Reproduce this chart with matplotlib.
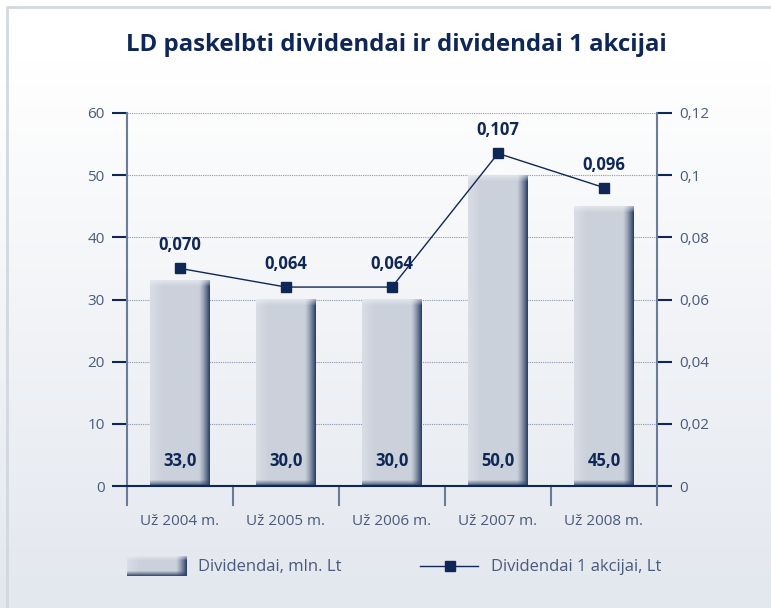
import numpy as np
import matplotlib
matplotlib.use("Agg")
import matplotlib.pyplot as plt
from matplotlib import font_manager as fm
from matplotlib.colors import to_rgb

categories = ["Už 2004 m.", "Už 2005 m.", "Už 2006 m.", "Už 2007 m.", "Už 2008 m."]
dividends = [33.0, 30.0, 30.0, 50.0, 45.0]
per_share = [0.070, 0.064, 0.064, 0.107, 0.096]
bar_labels = ["33,0", "30,0", "30,0", "50,0", "45,0"]
line_labels = ["0,070", "0,064", "0,064", "0,107", "0,096"]
left_ticks = [0, 10, 20, 30, 40, 50, 60]
right_ticks = [0, 0.02, 0.04, 0.06, 0.08, 0.10, 0.12]
right_tick_labels = ["0", "0,02", "0,04", "0,06", "0,08", "0,1", "0,12"]
title = "LD paskelbti dividendai ir dividendai 1 akcijai"
legend_labels = ["Dividendai, mln. Lt", "Dividendai 1 akcijai, Lt"]

names = {f.name for f in fm.fontManager.ttflist}
base_font = "Open Sans" if "Open Sans" in names else "DejaVu Sans"
plt.rcParams["font.family"] = [base_font, "DejaVu Sans"]

NAVY = "#0f2756"
TXT = "#4a5a7c"
SPINE = "#6b7b98"

W, H = 771, 608
fig = plt.figure(figsize=(W / 100, H / 100), dpi=100)

# background gradient + border
bg = fig.add_axes([0, 0, 1, 1], zorder=-10)
bg.set_axis_off()
top_c = np.array(to_rgb("#ffffff"))
bot_c = np.array(to_rgb("#e3e7ee"))
t = np.linspace(0, 1, 200)[:, None, None]
t = np.clip((t - 0.1) / 0.9, 0, 1)
grad = top_c * (1 - t) + bot_c * t
grad = np.repeat(grad, 2, axis=1)
bg.imshow(grad, extent=[0, 1, 0, 1], aspect="auto", origin="upper")
bg.plot([7 / W, 7 / W, 1.0], [0, 1 - 7 / H, 1 - 7 / H], color="#d3d8e0", lw=2,
        transform=bg.transAxes, clip_on=False)
bg.set_xlim(0, 1)
bg.set_ylim(0, 1)


def bar_image(nrows, ncols, bottom_px=6, top_px=6):
    body = np.array(to_rgb("#cbd1db"))
    light = np.array(to_rgb("#d9dde5"))
    dark = np.array(to_rgb("#2f4268"))
    hi = np.array(to_rgb("#eef0f4"))
    x = np.linspace(0, 1, ncols)
    img = np.zeros((nrows, ncols, 3))
    for j, xv in enumerate(x):
        if xv < 0.2:
            c = light * (1 - xv / 0.2) + body * (xv / 0.2)
        elif xv < 0.82:
            c = body
        else:
            f = ((xv - 0.82) / 0.18) ** 1.3
            c = body * (1 - f) + dark * f
        img[:, j] = c
    for i in range(min(top_px, nrows)):
        f = 1 - i / top_px
        img[i] = img[i] * (1 - 0.6 * f) + hi * 0.6 * f
    for k in range(min(bottom_px, nrows)):
        f = ((bottom_px - k) / bottom_px) ** 1.2
        img[nrows - 1 - k] = img[nrows - 1 - k] * (1 - f * 0.9) + dark * f * 0.9
    return img


ax = fig.add_axes([127 / W, 1 - 486 / H, 530 / W, 373 / H])
ax.patch.set_alpha(0)
x = np.arange(len(categories))
bw = 0.566
bars = ax.bar(x, dividends, width=bw, color="none", edgecolor="none", zorder=2)
for b, v in zip(bars, dividends):
    x0 = b.get_x()
    hpx = int(round(v / 60 * 373))
    img = bar_image(hpx, 60)
    ax.imshow(img, extent=[x0, x0 + bw, 0, v], aspect="auto", origin="upper",
              zorder=2, interpolation="bilinear")
ax.set_aspect("auto")
ax.set_xlim(-0.5, 4.5)
ax.set_ylim(0, 60)

for xi, v, lab in zip(x, dividends, bar_labels):
    ax.annotate(lab, (xi, 0), xytext=(0, 18), textcoords="offset points",
                ha="center", va="center", fontsize=12, fontweight="bold",
                color=NAVY, zorder=5)

ax.set_yticks(left_ticks)
ax.set_yticklabels([str(v) for v in left_ticks])
for yv in left_ticks[1:]:
    ax.axhline(yv, color="#8a96ae", lw=0.8, ls=(0, (1, 1)), zorder=1)
ax.set_xticks(x)
ax.set_xticklabels(categories)
ax.tick_params(axis="x", length=0, pad=20, labelsize=11, labelcolor=TXT)
ax.tick_params(axis="y", direction="out", length=11, width=1.5, color=NAVY,
               labelsize=11, labelcolor=TXT, pad=5)
for s in ["top", "right"]:
    ax.spines[s].set_visible(False)
ax.spines["left"].set_color(SPINE)
ax.spines["left"].set_linewidth(1.5)
ax.spines["bottom"].set_color(NAVY)
ax.spines["bottom"].set_linewidth(1.5)
ax.spines["bottom"].set_zorder(4)
for xb in np.arange(-0.5, 5.0, 1.0):
    ax.plot([xb, xb], [0, -19 / 373 * 60], color=SPINE, lw=1.5, clip_on=False, zorder=3)

ax2 = ax.twinx()
ax2.set_ylim(0, 0.12)
ax2.set_xlim(-0.5, 4.5)
ax2.plot(x, per_share, color=NAVY, lw=1, marker="s", markersize=7.5,
         markerfacecolor=NAVY, markeredgecolor=NAVY, zorder=6)
for xi, v, lab in zip(x, per_share, line_labels):
    ax2.annotate(lab, (xi, v), xytext=(0, 16.5), textcoords="offset points",
                 ha="center", va="center", fontsize=12, fontweight="bold",
                 color=NAVY, zorder=7)
ax2.set_yticks(right_ticks)
ax2.set_yticklabels(right_tick_labels)
ax2.tick_params(axis="y", direction="out", length=11, width=1.5, color=NAVY,
                labelsize=11, labelcolor=TXT, pad=5)
for s in ["top", "left", "bottom"]:
    ax2.spines[s].set_visible(False)
ax2.spines["right"].set_color(SPINE)
ax2.spines["right"].set_linewidth(1.5)

fig.text(396 / W, 1 - 45 / H, title, ha="center", va="center", fontsize=17.3,
         fontweight="bold", color=NAVY)

# legend
lg = fig.add_axes([0, 0, 1, 1], zorder=5)
lg.set_axis_off()
limg = bar_image(20, 60, bottom_px=5, top_px=4)
lg.imshow(limg, extent=[127, 187, 576, 556], aspect="auto", interpolation="bilinear")
lg.set_xlim(0, W)
lg.set_ylim(H, 0)
lg.text(198, 567, legend_labels[0], ha="left", va="center", fontsize=12, color=TXT)
lg.plot([420, 478], [566, 566], color=NAVY, lw=1)
lg.plot([450], [566], marker="s", markersize=7.5, color=NAVY)
lg.text(491, 567, legend_labels[1], ha="left", va="center", fontsize=12, color=TXT)

fig.savefig("out.png", dpi=100)
